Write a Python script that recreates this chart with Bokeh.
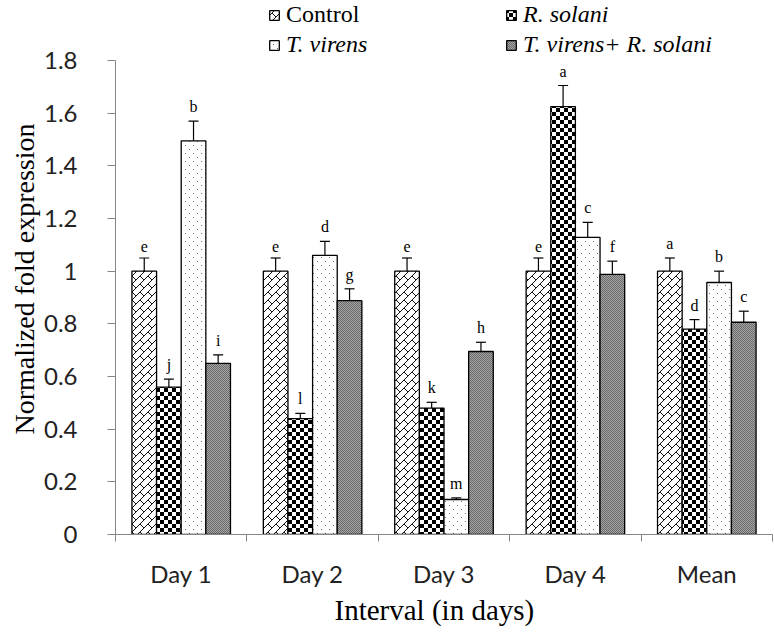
import zlib, struct, base64
from bokeh.plotting import figure
from bokeh.models import (ColumnDataSource, Range1d, FixedTicker, Whisker, TeeHead,
                          Legend, LegendItem, ImageURLTexture, Title)
from bokeh.transform import dodge
from bokeh.core.properties import value
from bokeh.embed import file_html
from bokeh.resources import INLINE

# ---------------- data ----------------
categories = ["Day 1", "Day 2", "Day 3", "Day 4", "Mean"]
control      = [1.0, 1.0, 1.0, 1.0, 1.0]
control_err  = [0.05, 0.05, 0.05, 0.05, 0.05]
rsolani      = [0.56, 0.44, 0.48, 1.625, 0.78]
rsolani_err  = [0.03, 0.02, 0.022, 0.08, 0.036]
tvirens      = [1.495, 1.06, 0.133, 1.128, 0.957]
tvirens_err  = [0.075, 0.053, 0.006, 0.057, 0.043]
combined     = [0.65, 0.888, 0.695, 0.988, 0.806]
combined_err = [0.032, 0.045, 0.035, 0.05, 0.042]
control_letters  = ["e", "e", "e", "e", "a"]
rsolani_letters  = ["j", "l", "k", "a", "d"]
tvirens_letters  = ["b", "d", "m", "c", "b"]
combined_letters = ["i", "g", "h", "f", "c"]
y_ticks  = [0, 0.2, 0.4, 0.6, 0.8, 1.0, 1.2, 1.4, 1.6, 1.8]
y_labels = ["0", "0.2", "0.4", "0.6", "0.8", "1", "1.2", "1.4", "1.6", "1.8"]
series_names = ["Control", "R. solani", "T. virens", "T. virens+ R. solani"]

# ---------------- textures ----------------
def png_url(rows):
    h = len(rows); w = len(rows[0])
    raw = b"".join(b"\x00" + bytes(r) for r in rows)
    def chunk(t, d):
        c = struct.pack(">I", len(d)) + t + d
        return c + struct.pack(">I", zlib.crc32(t + d) & 0xffffffff)
    png = (b"\x89PNG\r\n\x1a\n"
           + chunk(b"IHDR", struct.pack(">IIBBBBB", w, h, 8, 0, 0, 0, 0))
           + chunk(b"IDAT", zlib.compress(raw))
           + chunk(b"IEND", b""))
    return "data:image/png;base64," + base64.b64encode(png).decode()

def bits(strs, on=0, off=255):
    return [[on if ch == "1" else off for ch in s] for s in strs]

brick = bits(["00000001", "00000010", "00000100", "00001000",
              "00011000", "00100100", "01000010", "10000001"], on=20)
checker = bits(["11110000"] * 4 + ["00001111"] * 4, on=0)
dots = bits(["00000000", "01000000", "00000000", "00000000",
             "00000000", "00000100", "00000000", "00000000"], on=110)
stipple = [[105, 165], [165, 105]]

tex = {
    "brick": ImageURLTexture(url=png_url(brick)),
    "checker": ImageURLTexture(url=png_url(checker)),
    "dots": ImageURLTexture(url=png_url(dots)),
    "stipple": ImageURLTexture(url=png_url(stipple)),
}

xc = [i + 0.5 for i in range(len(categories))]
src = ColumnDataSource(dict(
    xc=xc,
    control=control, rsolani=rsolani, tvirens=tvirens, combined=combined,
    control_lo=[v - e for v, e in zip(control, control_err)],
    control_hi=[v + e for v, e in zip(control, control_err)],
    rsolani_lo=[v - e for v, e in zip(rsolani, rsolani_err)],
    rsolani_hi=[v + e for v, e in zip(rsolani, rsolani_err)],
    tvirens_lo=[v - e for v, e in zip(tvirens, tvirens_err)],
    tvirens_hi=[v + e for v, e in zip(tvirens, tvirens_err)],
    combined_lo=[v - e for v, e in zip(combined, combined_err)],
    combined_hi=[v + e for v, e in zip(combined, combined_err)],
    control_l=control_letters, rsolani_l=rsolani_letters,
    tvirens_l=tvirens_letters, combined_l=combined_letters,
))

# frame spans whole top so the legend (inside the frame) is not clipped;
# the y axis itself is bounded to 0..1.8
y_top = 1.8 * 534 / 474
p = figure(width=774, height=636, output_backend="svg", toolbar_location=None,
           x_range=Range1d(0, 5), y_range=Range1d(0, y_top),
           min_border_left=115, min_border_right=2, min_border_top=0,
           min_border_bottom=102)
p.outline_line_color = None
p.grid.visible = False
p.background_fill_color = "white"
p.border_fill_color = "white"

bw = 0.1875
offs = [-1.5 * bw, -0.5 * bw, 0.5 * bw, 1.5 * bw]
keys = ["control", "rsolani", "tvirens", "combined"]
pats = ["brick", "checker", "dots", "stipple"]
renderers = []
for k, off, pat in zip(keys, offs, pats):
    r = p.vbar(x=dodge("xc", off), top=k, width=bw, bottom=0, source=src,
               fill_color="white", line_color="black", line_width=1.3,
               hatch_pattern=value(pat), hatch_extra={pat: tex[pat]})
    renderers.append(r)
    w = Whisker(base=dodge("xc", off), upper=k + "_hi", lower=k + "_lo", source=src,
                line_color="black", line_width=1.2,
                upper_head=TeeHead(size=10, line_color="black", line_width=1.2),
                lower_head=TeeHead(size=10, line_color="black", line_width=1.2))
    p.add_layout(w)
    p.text(x=dodge("xc", off), y=k + "_hi", text=k + "_l", source=src,
           text_font=value("Liberation Serif"), text_font_size="16px",
           text_align="center", text_baseline="bottom", y_offset=-6,
           text_color="black")

# axes
axis_gray = "#868686"
xa = p.xaxis[0]
xa.ticker = FixedTicker(ticks=xc, minor_ticks=[0, 1, 2, 3, 4, 5])
xa.major_label_overrides = {x: c for x, c in zip(xc, categories)}
xa.major_tick_line_color = None
xa.minor_tick_line_color = axis_gray
xa.minor_tick_out = 7
xa.minor_tick_in = 0
xa.axis_line_color = axis_gray
xa.major_label_text_font = "Lato"
xa.major_label_text_font_size = "24px"
xa.major_label_text_color = "#222222"
xa.major_label_standoff = 17

ya = p.yaxis[0]
ya.bounds = (0, 1.8)
ya.ticker = FixedTicker(ticks=y_ticks)
ya.major_label_overrides = {t: l for t, l in zip(y_ticks, y_labels)}
ya.minor_tick_line_color = None
ya.major_tick_line_color = axis_gray
ya.major_tick_out = 8
ya.major_tick_in = 0
ya.axis_line_color = axis_gray
ya.major_label_text_font = "Lato"
ya.major_label_text_font_size = "24px"
ya.major_label_text_color = "#222222"
ya.major_label_standoff = 30

# axis titles (as side titles so they can be placed like the reference)
ytitle = Title(text="Normalized fold expression", align="left", offset=100,
               text_font="Liberation Serif", text_font_size="28px",
               text_font_style="normal", text_color="black", standoff=2)
p.add_layout(ytitle, "left")
xtitle = Title(text="Interval (in days)", align="left", offset=219,
               text_font="Liberation Serif", text_font_size="29px",
               text_font_style="normal", text_color="black", standoff=2)
p.add_layout(xtitle, "below")

# legends
def mk_legend(name, rend, loc, italic):
    lg = Legend(items=[LegendItem(label=name, renderers=[rend])], location=loc,
                orientation="vertical", padding=0, margin=0, spacing=0,
                glyph_width=12, glyph_height=12, label_standoff=6,
                border_line_color=None, background_fill_alpha=0,
                label_text_font="Liberation Serif", label_text_font_size="24px",
                label_text_font_style="italic" if italic else "normal",
                label_text_color="black")
    p.add_layout(lg, "center")

mk_legend(series_names[0], renderers[0], (153, 506), False)
mk_legend(series_names[1], renderers[1], (390, 506), True)
mk_legend(series_names[2], renderers[2], (153, 476), True)
mk_legend(series_names[3], renderers[3], (390, 476), True)

open("out.html", "w").write(file_html(p, INLINE))
